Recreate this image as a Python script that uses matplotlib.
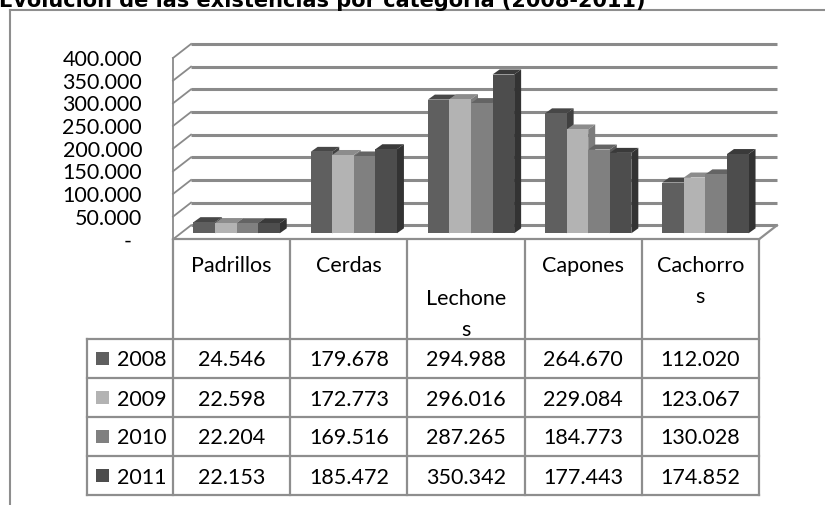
import matplotlib
matplotlib.use("Agg")
import matplotlib.pyplot as plt
from matplotlib.patches import Polygon, Rectangle
from matplotlib.lines import Line2D
from matplotlib.transforms import Affine2D, IdentityTransform

plt.rcParams['font.family'] = ['Lato', 'DejaVu Sans']

title = "Evolución de las existencias por categoría (2008-2011)"
categories = ["Padrillos", "Cerdas", "Lechones", "Capones", "Cachorros"]
header_labels = ["Padrillos", "Cerdas", "Lechone\ns", "Capones", "Cachorro\ns"]
years = ["2008", "2009", "2010", "2011"]
v2008 = [24546, 179678, 294988, 264670, 112020]
v2009 = [22598, 172773, 296016, 229084, 123067]
v2010 = [22204, 169516, 287265, 184773, 130028]
v2011 = [22153, 185472, 350342, 177443, 174852]
series = [v2008, v2009, v2010, v2011]
yticks = [0, 50000, 100000, 150000, 200000, 250000, 300000, 350000, 400000]

front_colors = ['#5f5f5f', '#b3b3b3', '#808080', '#4d4d4d']
top_colors = ['#474747', '#8c8c8c', '#646464', '#3a3a3a']
side_colors = ['#404040', '#7c7c7c', '#585858', '#333333']
grid_c = '#8a8a8a'
line_c = '#8e8e8e'

W, H = 825, 505
FS = 15.5


def box(x0, y0, x1, y1):
    # pixel box (origin top-left) -> figure fraction rect
    return [x0 / W, 1 - y1 / H, (x1 - x0) / W, (y1 - y0) / H]


def fmt(v):
    return "{:,}".format(v).replace(",", ".")


fig = plt.figure(figsize=(W / 100, H / 100), dpi=100)
fig.patch.set_facecolor('white')

# chart frame (only left/top edges visible)
fig.add_artist(Line2D([10 / W, 10 / W], [0, 1 - 10 / H], transform=fig.transFigure,
                      color=line_c, lw=1.5))
fig.add_artist(Line2D([10 / W, 1], [1 - 10 / H, 1 - 10 / H], transform=fig.transFigure,
                      color=line_c, lw=1.5))
fig.text(-1 / W, 1 - 7 / H, title, fontsize=15, fontweight='bold', ha='left',
         va='baseline', family=['DejaVu Sans'])

# ---- 3D column chart ----
ax = fig.add_axes(box(173, 58, 759, 239.3))
ax.set_xlim(0, 5)
ax.set_ylim(0, 400000)
ax.axis('off')

wall_dx, wall_dy = 18, 14
back_tr = ax.transData + Affine2D().translate(wall_dx, wall_dy)
bar_tr = ax.transData + Affine2D().translate(5, 6)
bar_dx, bar_dy = 7, 5
ident = IdentityTransform()

for v in yticks:
    ax.plot([0, 5], [v, v], transform=back_tr, color=grid_c, lw=2.2,
            solid_capstyle='butt', zorder=1, clip_on=False)
    px, py = ax.transData.transform((0, v))
    ax.add_line(Line2D([px, px + wall_dx], [py, py + wall_dy], transform=ident,
                       color=grid_c, lw=1.3, zorder=1, clip_on=False))
    lab = fmt(v) if v else "-"
    ax.annotate(lab, xy=(0, v), xytext=(-31 if v else -41, 0), textcoords='offset pixels',
                ha='right', va='center_baseline', fontsize=FS, annotation_clip=False)

# side wall edge and floor
ax.plot([0, 0], [0, 400000], color=grid_c, lw=1.3, zorder=1, clip_on=False)
ax.plot([0, 5], [0, 0], color=line_c, lw=1.6, zorder=1, clip_on=False)
px, py = ax.transData.transform((5, 0))
ax.add_line(Line2D([px, px + wall_dx], [py, py + wall_dy], transform=ident,
                   color=line_c, lw=1.6, zorder=1, clip_on=False))

bw = 0.184
for j, vals in enumerate(series):
    xs = [i + 0.5 - 2 * bw + j * bw for i in range(len(categories))]
    ax.bar(xs, vals, width=bw, align='edge', color=front_colors[j], linewidth=0,
           transform=bar_tr, zorder=3 + 2 * j, clip_on=False)
    for x0, h in zip(xs, vals):
        (ax0, ay0), (ax1, ay1) = bar_tr.transform([(x0, 0), (x0 + bw, h)])
        top = Polygon([(ax0, ay1), (ax1, ay1), (ax1 + bar_dx, ay1 + bar_dy),
                       (ax0 + bar_dx, ay1 + bar_dy)], closed=True, transform=ident,
                      facecolor=top_colors[j], edgecolor='none', zorder=2 + 2 * j, clip_on=False)
        side = Polygon([(ax1, ay0), (ax1, ay1), (ax1 + bar_dx, ay1 + bar_dy),
                        (ax1 + bar_dx, ay0 + bar_dy)], closed=True, transform=ident,
                       facecolor=side_colors[j], edgecolor='none', zorder=2 + 2 * j, clip_on=False)
        ax.add_patch(top)
        ax.add_patch(side)

# ---- data table ----
lead = 86 / 117.2
nrows = len(years)
head_h = 99 / 39
tx = fig.add_axes(box(87, 240, 759, 495))
tx.set_xlim(-lead, 5)
tx.set_ylim(0, nrows + head_h)
tx.axis('off')

lk = dict(color=line_c, lw=1.6, clip_on=False, solid_capstyle='projecting')
for r in range(nrows + 1):
    tx.plot([-lead, 5], [r, r], **lk)
tx.plot([-lead, -lead], [0, nrows], **lk)
for c in range(len(categories) + 1):
    tx.plot([c, c], [0, nrows + head_h], **lk)

head_first = [24, 24, 57, 24, 24]
for c, lab in enumerate(header_labels):
    for k, part in enumerate(lab.split("\n")):
        y = nrows + head_h - (head_first[c] + 31 * k) / 39
        tx.text(c + 0.5, y, part, ha='center', va='center_baseline', fontsize=FS)

sq_w, sq_h = 13 / 117.2, 13 / 39
for j, yr in enumerate(years):
    yc = nrows - j - 0.5
    tx.add_patch(Rectangle((-0.657, yc - sq_h / 2), sq_w, sq_h, facecolor=front_colors[j],
                           edgecolor='none', clip_on=False))
    tx.text(-0.478, yc, yr, ha='left', va='center_baseline', fontsize=FS)
    for c, v in enumerate(series[j]):
        tx.text(c + 0.5, yc, fmt(v), ha='center', va='center_baseline', fontsize=FS)

fig.savefig('out.png', dpi=100, facecolor='white')
